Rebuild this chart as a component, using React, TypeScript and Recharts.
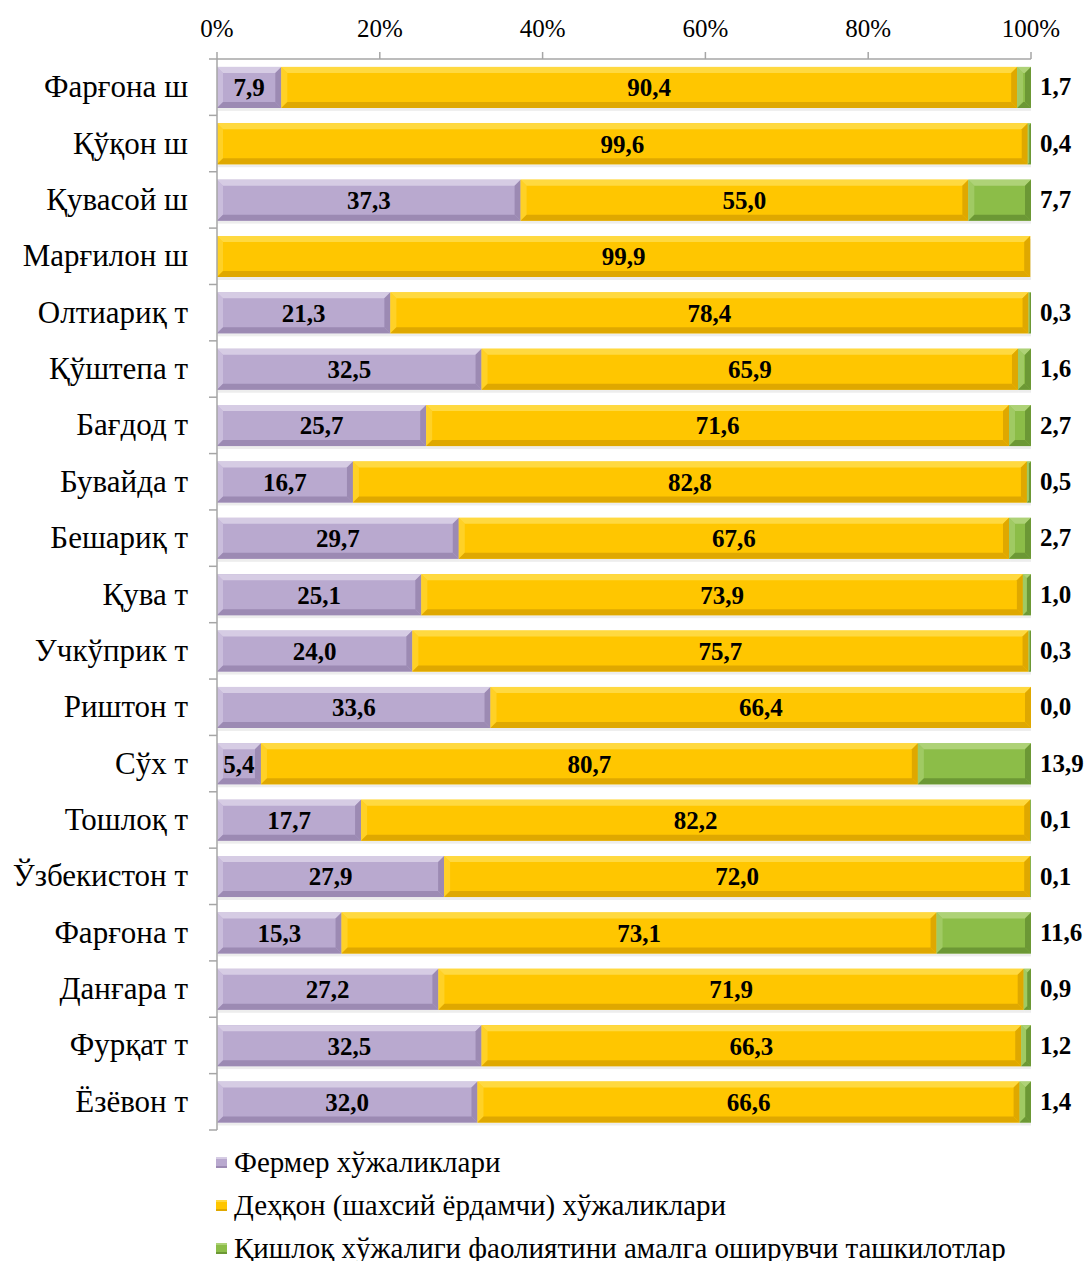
import { BarChart, Bar, XAxis, YAxis, LabelList } from 'recharts';

const categories = [
  'Фарғона ш', 'Қўқон ш', 'Қувасой ш', 'Марғилон ш', 'Олтиариқ т', 'Қўштепа т',
  'Бағдод т', 'Бувайда т', 'Бешариқ т', 'Қува т', 'Учкўприк т', 'Риштон т',
  'Сўх т', 'Тошлоқ т', 'Ўзбекистон т', 'Фарғона т', 'Данғара т', 'Фурқат т', 'Ёзёвон т',
];
const farmer = [7.9, null, 37.3, null, 21.3, 32.5, 25.7, 16.7, 29.7, 25.1, 24.0, 33.6, 5.4, 17.7, 27.9, 15.3, 27.2, 32.5, 32.0];
const dehqon = [90.4, 99.6, 55.0, 99.9, 78.4, 65.9, 71.6, 82.8, 67.6, 73.9, 75.7, 66.4, 80.7, 82.2, 72.0, 73.1, 71.9, 66.3, 66.6];
const orgs = [1.7, 0.4, 7.7, null, 0.3, 1.6, 2.7, 0.5, 2.7, 1.0, 0.3, 0.0, 13.9, 0.1, 0.1, 11.6, 0.9, 1.2, 1.4];
const xTicks = [0, 20, 40, 60, 80, 100];

const seriesNames = [
  'Фермер хўжаликлари',
  'Деҳқон (шахсий ёрдамчи) хўжаликлари',
  'Қишлоқ хўжалиги фаолиятини амалга оширувчи ташкилотлар',
];

const FONT = "'Liberation Serif', 'Times New Roman', serif";
const AXIS = '#a6a6a6';

const palette = {
  farmer: { base: '#b9a9cf', light: '#d6cce4', dark: '#9c8ab3' },
  dehqon: { base: '#ffc600', light: '#ffd940', dark: '#dfa800' },
  orgs: { base: '#8cbd48', light: '#aed277', dark: '#6c9835' },
};

const rows = categories.map((name, i) => ({
  name,
  farmer: farmer[i],
  dehqon: dehqon[i],
  orgs: orgs[i],
}));

const fmt = (v: number | null | undefined) =>
  v == null ? '' : Number(v).toFixed(1).replace('.', ',');

// bevelled bar, like the Excel "soft edge" preset
function bevelShape(c: { base: string; light: string; dark: string }) {
  return (props: any) => {
    const { x, y, width, height } = props;
    if (!width || width <= 0) return <g />;
    const b = Math.min(6, width / 2);
    const x2 = x + width;
    const y2 = y + height;
    return (
      <g>
        <rect x={x + 1} y={y + 3} width={width} height={height} fill="#000" opacity={0.07} />
        <rect x={x} y={y} width={width} height={height} fill={c.base} />
        <polygon points={`${x},${y} ${x2},${y} ${x2 - b},${y + b} ${x + b},${y + b}`} fill={c.light} />
        <polygon points={`${x},${y} ${x + b},${y + b} ${x + b},${y2 - b} ${x},${y2}`} fill={c.light} opacity={0.6} />
        <polygon points={`${x},${y2} ${x2},${y2} ${x2 - b},${y2 - b} ${x + b},${y2 - b}`} fill={c.dark} />
        <polygon points={`${x2},${y} ${x2},${y2} ${x2 - b},${y2 - b} ${x2 - b},${y + b}`} fill={c.dark} />
      </g>
    );
  };
}

const TOP = 59;
const BOTTOM = 1130;
const step = (BOTTOM - TOP) / categories.length;

function CategoryTick(props: any) {
  const { x, y, payload, index } = props;
  const last = index === categories.length - 1;
  return (
    <g>
      <line x1={x} x2={x + 8} y1={y - step / 2} y2={y - step / 2} stroke={AXIS} strokeWidth={1.5} />
      {last && <line x1={x} x2={x + 8} y1={y + step / 2} y2={y + step / 2} stroke={AXIS} strokeWidth={1.5} />}
      <text x={x - 21} y={y} dy={10} textAnchor="end" fontFamily={FONT} fontSize={31} fill="#000">
        {payload.value}
      </text>
    </g>
  );
}

function OutsideLabel(props: any) {
  const { x, y, width, height, value } = props;
  if (value == null) return null;
  return (
    <text x={x + width + 9} y={y + height / 2} dy={8} fontFamily={FONT} fontSize={25} fontWeight="bold" fill="#000">
      {fmt(value)}
    </text>
  );
}

function LegendBox() {
  const items = [palette.farmer, palette.dehqon, palette.orgs];
  return (
    <div style={{ position: 'absolute', left: 216, top: 1141, fontFamily: FONT, fontSize: 29, color: '#000' }}>
      {items.map((c, i) => (
        <div key={i} style={{ display: 'flex', alignItems: 'center', height: 43, whiteSpace: 'nowrap' }}>
          <span
            style={{
              display: 'inline-block', width: 11, height: 11, marginRight: 7,
              background: c.base, boxShadow: `inset 0 2px 0 ${c.light}, inset 0 -2px 0 ${c.dark}`,
            }}
          />
          {seriesNames[i]}
        </div>
      ))}
    </div>
  );
}

const labelStyle = { fontFamily: FONT, fontSize: 25, fontWeight: 'bold', fill: '#000' };

export default function App() {
  return (
    <div style={{ position: 'absolute', left: 0, top: 0, width: 1090, height: 1261, background: '#fff', overflow: 'hidden' }}>
      <BarChart
        width={1090}
        height={1261}
        data={rows}
        layout="vertical"
        margin={{ top: TOP - 30, right: 59, bottom: 1261 - BOTTOM, left: 0 }}
        barCategoryGap="14%"
      >
        <XAxis
          type="number"
          orientation="top"
          domain={[0, 100]}
          ticks={xTicks}
          tickFormatter={(v) => `${v}%`}
          height={30}
          tickSize={7}
          tickMargin={15}
          axisLine={{ stroke: AXIS, strokeWidth: 1.5 }}
          tickLine={{ stroke: AXIS, strokeWidth: 1.5 }}
          tick={{ fontFamily: FONT, fontSize: 25, fill: '#000' }}
          allowDataOverflow
        />
        <YAxis
          type="category"
          dataKey="name"
          width={217}
          tickLine={false}
          axisLine={{ stroke: AXIS, strokeWidth: 1.5 }}
          tick={<CategoryTick />}
          interval={0}
        />
        <Bar dataKey="farmer" stackId="a" name={seriesNames[0]} fill={palette.farmer.base} shape={bevelShape(palette.farmer)} isAnimationActive={false}>
          <LabelList dataKey="farmer" position="center" formatter={fmt} style={labelStyle} />
        </Bar>
        <Bar dataKey="dehqon" stackId="a" name={seriesNames[1]} fill={palette.dehqon.base} shape={bevelShape(palette.dehqon)} isAnimationActive={false}>
          <LabelList dataKey="dehqon" position="center" formatter={fmt} style={labelStyle} />
        </Bar>
        <Bar dataKey="orgs" stackId="a" name={seriesNames[2]} fill={palette.orgs.base} shape={bevelShape(palette.orgs)} isAnimationActive={false}>
          <LabelList dataKey="orgs" content={<OutsideLabel />} />
        </Bar>
      </BarChart>
      <LegendBox />
    </div>
  );
}
